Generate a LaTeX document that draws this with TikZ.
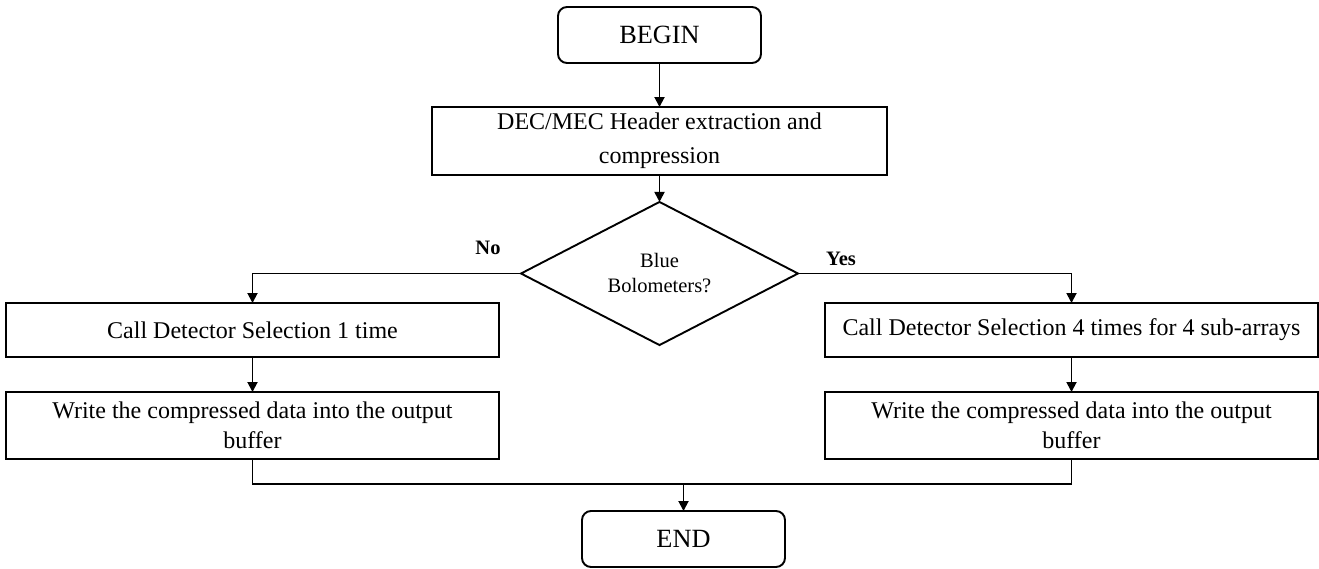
\documentclass[tikz,border=0pt]{standalone}
\usepackage{fontspec}
\setmainfont{Liberation Serif}
\usetikzlibrary{arrows.meta,shapes.geometric}
\begin{document}
\begin{tikzpicture}[x=1pt,y=-1pt,
  every node/.style={inner sep=0pt, outer sep=0pt},
  box/.style={draw, line width=1.9pt, minimum width=493pt, align=center, font=\fontsize{24}{30}\selectfont},
  term/.style={draw, line width=1.9pt, rounded corners=9pt, minimum width=203pt, minimum height=56pt, font=\fontsize{26.3}{30}\selectfont},
  dec/.style={draw, diamond, line width=1.9pt, minimum width=277pt, minimum height=133pt, align=center, font=\fontsize{20.5}{25}\selectfont},
  lbl/.style={font=\fontsize{20.5}{24}\selectfont\bfseries},
  conn/.style={line width=1.9pt},
  arr/.style={conn, -{Triangle[length=10pt,width=10pt]}}]
\useasboundingbox (0,0) rectangle (1319,568);
\node[term] (begin) at (659.5,35) {BEGIN};
\node[box, minimum width=455pt, minimum height=68pt, font=\fontsize{24}{34}\selectfont] (hdr) at (659.5,141) {DEC/MEC Header extraction and\\compression};
\node[dec] (dia) at (659.5,273.5) {Blue\\Bolometers?};
\node[box, minimum height=54pt] (l1) at (252.5,330) {Call Detector Selection 1 time};
\node[box, minimum height=67pt] (l2) at (252.5,425.5) {Write the compressed data into the output\\buffer};
\node[box, minimum height=54pt] (r1) at (1071.5,330) {Call Detector Selection 4 times for 4 sub-arrays};
\node[box, minimum height=67pt] (r2) at (1071.5,425.5) {Write the compressed data into the output\\buffer};
\node[term] (end) at (683.5,539) {END};
\node[lbl] (no) at (488,248) {No};
\node[lbl] (yes) at (841,259) {Yes};
\coordinate (mj) at (683.5,484);
\draw[arr] (begin.south) -- (hdr.north);
\draw[arr] (hdr.south) -- (dia.north);
\draw[arr] (dia.west) -| (l1.north);
\draw[arr] (dia.east) -| (r1.north);
\draw[arr] (l1.south) -- (l2.north);
\draw[arr] (r1.south) -- (r2.north);
\draw[conn] (l2.south) |- (mj) -| (r2.south);
\draw[arr] (mj) -- (end.north);
\end{tikzpicture}
\end{document}
